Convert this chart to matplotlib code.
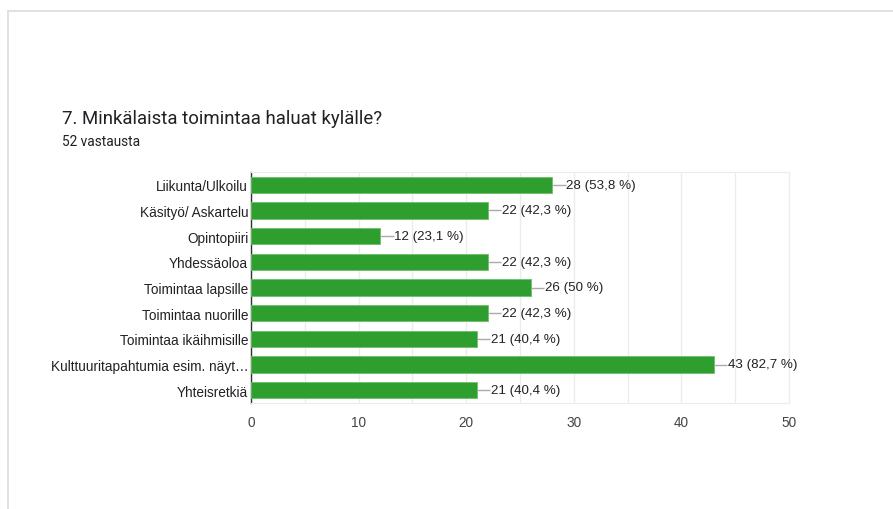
import matplotlib.pyplot as plt
from matplotlib.lines import Line2D

categories = [
    "Liikunta/Ulkoilu",
    "Käsityö/ Askartelu",
    "Opintopiiri",
    "Yhdessäoloa",
    "Toimintaa lapsille",
    "Toimintaa nuorille",
    "Toimintaa ikäihmisille",
    "Kulttuuritapahtumia esim. näyt…",
    "Yhteisretkiä",
]
counts = [28, 22, 12, 22, 26, 22, 21, 43, 21]
percents = ["53,8", "42,3", "23,1", "42,3", "50", "42,3", "40,4", "82,7", "40,4"]
xticks = [0, 10, 20, 30, 40, 50]

plt.rcParams['font.family'] = ['Liberation Sans', 'DejaVu Sans']

W, H = 893, 510
fig = plt.figure(figsize=(W / 100, H / 100), dpi=100)

# card border (google forms style)
fig.add_artist(Line2D([8 / W, 1], [1 - 12 / H, 1 - 12 / H], color='#dadce0', lw=1.2))
fig.add_artist(Line2D([8 / W, 8 / W], [0, 1 - 12 / H], color='#dadce0', lw=1.2))

fig.text(62 / W, 1 - 124 / H, "7. Minkälaista toimintaa haluat kylälle?",
         family=['Roboto', 'DejaVu Sans'], fontsize=13.4, color='#202124')
fig.text(62 / W, 1 - 146 / H, "52 vastausta",
         family=['Roboto', 'DejaVu Sans'], fontsize=9.8, color='#202124')

ax = fig.add_axes([251 / W, 1 - 404 / H, (789 - 251) / W, (404 - 173) / H])

y = range(len(categories))
ax.barh(y, counts, height=0.63, color='#2e9f2e', edgecolor='#6cc06c', linewidth=0.6, zorder=3)

for i, (c, p) in enumerate(zip(counts, percents)):
    ax.plot([c, c + 1.25], [i, i], color='#aaaaaa', lw=1, zorder=4, solid_capstyle='butt')
    ax.text(c + 1.3, i, f"{c} ({p} %)", va='center', ha='left', fontsize=9.6, color='#222222')

ax.set_xlim(0, 50)
ax.set_ylim(len(categories) - 0.5, -0.5)
ax.set_xticks(xticks)
ax.set_xticks(range(5, 50, 10), minor=True)
ax.set_yticks(list(y))
ax.set_yticklabels(categories)
ax.grid(axis='x', which='both', color='#ececec', lw=1, zorder=0)
ax.tick_params(axis='both', which='both', length=0)
ax.tick_params(axis='y', labelsize=9.8, labelcolor='#222222', pad=2)
ax.tick_params(axis='x', labelsize=9.8, labelcolor='#444444', pad=9)

for s in ['top', 'right', 'bottom']:
    ax.spines[s].set_color('#ececec')
ax.spines['left'].set_color('#333333')
ax.spines['left'].set_linewidth(1)

fig.savefig('out.png', dpi=100)
